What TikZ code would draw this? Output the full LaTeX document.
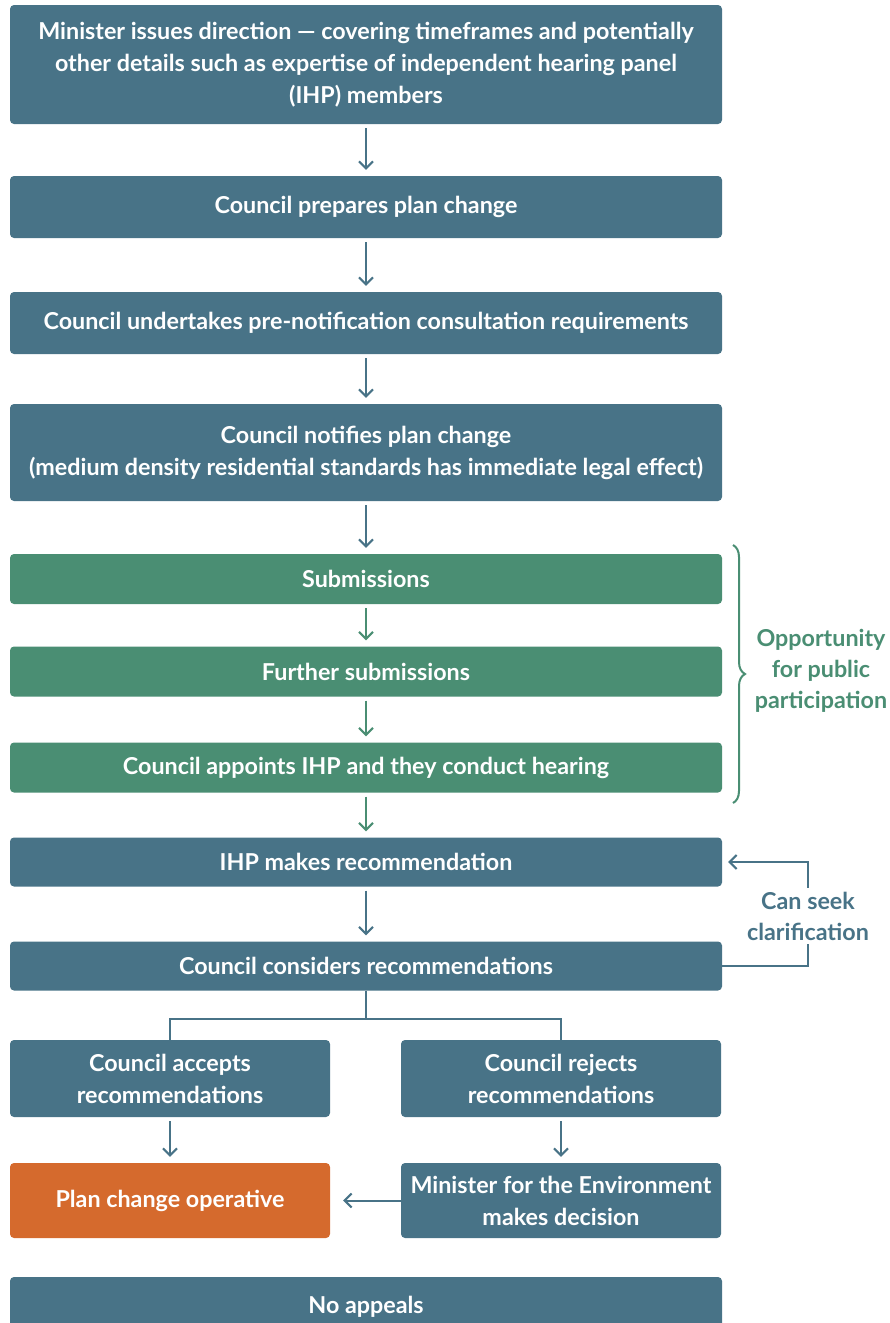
\documentclass[tikz,border=0pt]{standalone}
\usepackage{fontspec}
\setmainfont{Lato}
\usetikzlibrary{arrows.meta,decorations.pathreplacing}
\definecolor{ihpblue}{RGB}{72,115,135}
\definecolor{ihpgreen}{RGB}{74,142,115}
\definecolor{ihporange}{RGB}{213,106,45}

\begin{document}
\begin{tikzpicture}[x=1pt,y=-1pt,
  box/.style={fill=ihpblue,rounded corners=4pt,text=white,align=center,inner sep=0pt,
    font=\fontsize{23.3}{32}\selectfont\bfseries,minimum width=712pt},
  halfbox/.style={box,minimum width=320pt},
  greenbox/.style={box,fill=ihpgreen},
  flow/.style={ihpblue,line width=2pt,-{Straight Barb[length=7pt,width=14pt]},shorten <=4pt,shorten >=6pt},
  greenflow/.style={flow,ihpgreen},
  link/.style={ihpblue,line width=2pt},
  sidenote/.style={font=\fontsize{23.3}{31}\selectfont\bfseries,align=center,inner sep=4pt}]
\useasboundingbox (0,0) rectangle (890,1323);

% Main path
\node[box,minimum height=119pt] (direction) at (366,64.5)
  {Minister issues direction --- covering timeframes and potentially\\other details such as expertise of independent hearing panel\\(IHP) members};
\node[box,minimum height=62pt] (prepare) at (366,207) {Council prepares plan change};
\node[box,minimum height=62pt] (prenotify) at (366,323) {Council undertakes pre-notification consultation requirements};
\node[box,minimum height=97pt] (notify) at (366,452.5)
  {Council notifies plan change\\(medium density residential standards has immediate legal effect)};
\node[greenbox,minimum height=50pt] (subs) at (366,579) {Submissions};
\node[greenbox,minimum height=50pt] (furthersubs) at (366,671.5) {Further submissions};
\node[greenbox,minimum height=50pt] (hearing) at (366,767.5) {Council appoints IHP and they conduct hearing};
\node[box,minimum height=49pt] (recommend) at (366,862) {IHP makes recommendation};
\node[box,minimum height=49pt] (considers) at (366,966) {Council considers recommendations};
\node[halfbox,minimum height=77pt] (accepts) at (170,1078.5) {Council accepts\\recommendations};
\node[halfbox,minimum height=77pt] (rejects) at (561,1078.5) {Council rejects\\recommendations};
\node[halfbox,minimum height=75pt,fill=ihporange] (operative) at (170,1200.5) {Plan change operative};
\node[halfbox,minimum height=75pt] (ministerdecides) at (561,1200.5) {Minister for the Environment\\makes decision};
\node[box,minimum height=60pt] (noappeals) at (366,1307) {No appeals};

\draw[flow] (direction) -- (prepare);
\draw[flow] (prepare) -- (prenotify);
\draw[flow] (prenotify) -- (notify);
\draw[flow] (notify) -- (subs);
\draw[greenflow] (subs) -- (furthersubs);
\draw[greenflow] (furthersubs) -- (hearing);
\draw[greenflow] (hearing) -- (recommend);
\draw[flow] (recommend) -- (considers);

% Split after council decision
\draw[link] (considers.south) -- ++(0,28) coordinate (split) -| (accepts.north);
\draw[link] (split) -| (rejects.north);
\draw[flow] (accepts) -- (operative);
\draw[flow] (rejects) -- (ministerdecides);
\draw[flow,shorten <=0pt,shorten >=13pt] (ministerdecides) -- (operative);

% Public participation
\coordinate (bracetop) at (733,545);
\coordinate (bracebot) at (733,803);
\draw[ihpgreen,line width=2pt,decorate,decoration={brace,amplitude=12pt}] (bracetop) -- (bracebot);
\node[sidenote,text=ihpgreen] (participation) at (821,671) {Opportunity\\for public\\participation};

% Clarification loop
\node[sidenote,text=ihpblue] (clarify) at (808,916) {Can seek\\clarification};
\draw[link] (considers.east) -| (clarify.south);
\draw[flow,shorten <=0pt] (clarify.north) |- (recommend.east);
\end{tikzpicture}
\end{document}
